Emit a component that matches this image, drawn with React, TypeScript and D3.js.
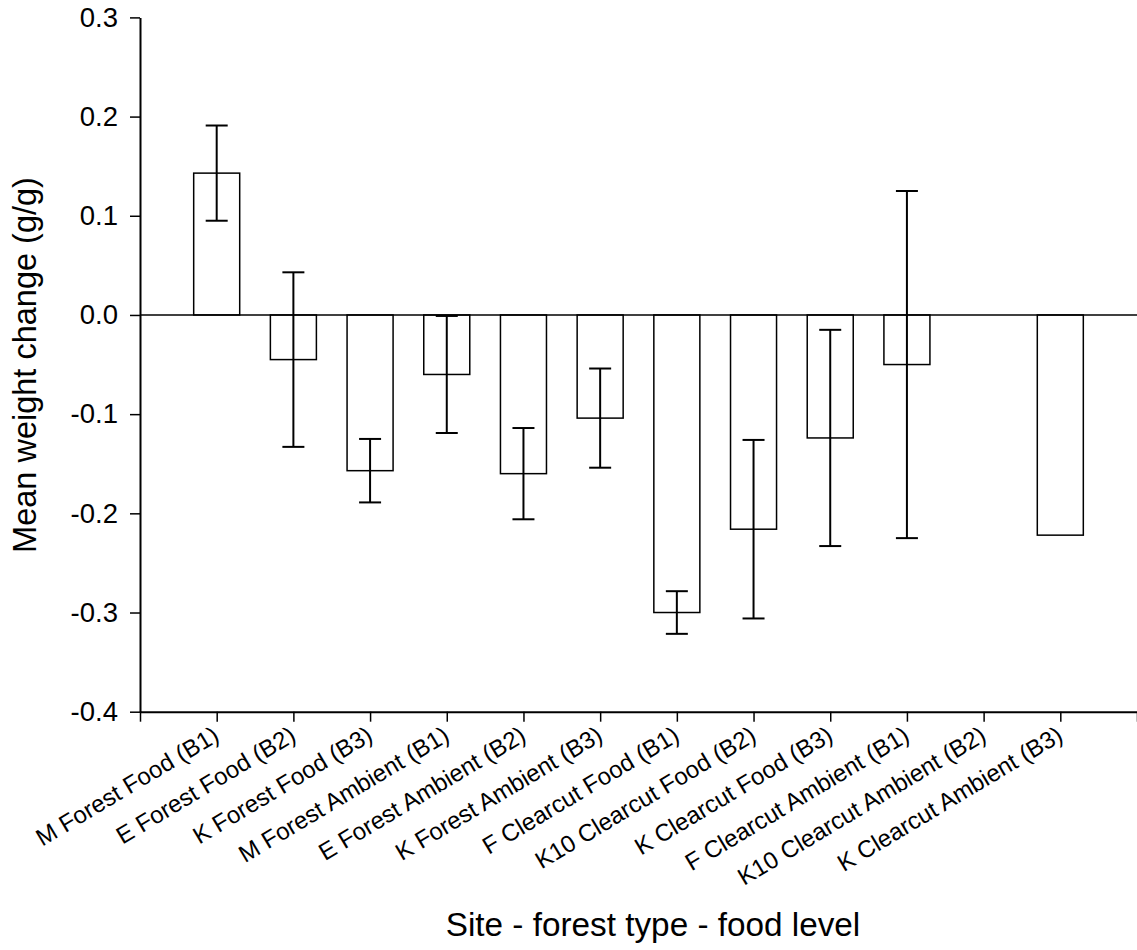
import React, {useEffect, useRef} from 'react'
import * as d3 from 'd3'

const categories = [
  'M Forest Food (B1)',
  'E Forest Food (B2)',
  'K Forest Food (B3)',
  'M Forest Ambient (B1)',
  'E Forest Ambient (B2)',
  'K Forest Ambient (B3)',
  'F Clearcut Food (B1)',
  'K10 Clearcut Food (B2)',
  'K Clearcut Food (B3)',
  'F Clearcut Ambient (B1)',
  'K10 Clearcut Ambient (B2)',
  'K Clearcut Ambient (B3)',
]
const means: (number | null)[] = [0.143, -0.045, -0.157, -0.060, -0.160, -0.104, -0.300, -0.216, -0.124, -0.050, null, -0.222]
const errors: (number | null)[] = [0.048, 0.088, 0.032, 0.059, 0.046, 0.050, 0.0215, 0.090, 0.109, 0.175, null, null]
const yTicks = [-0.4, -0.3, -0.2, -0.1, 0.0, 0.1, 0.2, 0.3]

const W = 1137
const H = 950
const font = '"Liberation Sans", Arial, Helvetica, sans-serif'

const App = () => {
  const ref = useRef<SVGSVGElement>(null)

  useEffect(() => {
    const svg = d3.select(ref.current)
    svg.selectAll('*').remove()
    svg.attr('viewBox', [0, 0, W, H]).attr('font-family', font)

    const margin = {top: 17.4, right: 0, bottom: H - 711.7, left: 140}

    // x is linear: one empty slot at each end, bars sit on 1..12
    const x = d3.scaleLinear()
      .domain([0, categories.length + 1])
      .range([margin.left, W - margin.right])
    const step = x(1) - x(0)
    const barW = step * 0.6

    const y = d3.scaleLinear()
      .domain([-0.4, 0.3])
      .range([H - margin.bottom, margin.top])

    const data = categories.map((name, i) => ({name, i: i + 1, value: means[i], err: errors[i]}))

    // bars
    svg.append('g')
      .selectAll('rect')
      .data(data.filter(d => d.value !== null))
      .join('rect')
      .attr('x', d => x(d.i) - barW / 2)
      .attr('y', d => y(Math.max(0, d.value as number)))
      .attr('width', barW)
      .attr('height', d => Math.abs(y(d.value as number) - y(0)))
      .attr('fill', 'white')
      .attr('stroke', 'black')
      .attr('stroke-width', 1.5)

    // zero line
    svg.append('line')
      .attr('x1', x(0)).attr('x2', x(categories.length + 1))
      .attr('y1', y(0)).attr('y2', y(0))
      .attr('stroke', 'black')
      .attr('stroke-width', 1.5)

    // error bars
    const eb = svg.append('g')
      .attr('stroke', 'black')
      .attr('stroke-width', 2)
      .selectAll('g')
      .data(data.filter(d => d.value !== null && d.err !== null))
      .join('g')
    const cap = 11
    eb.append('line')
      .attr('x1', d => x(d.i)).attr('x2', d => x(d.i))
      .attr('y1', d => y((d.value as number) + (d.err as number)))
      .attr('y2', d => y((d.value as number) - (d.err as number)))
    eb.append('line')
      .attr('x1', d => x(d.i) - cap).attr('x2', d => x(d.i) + cap)
      .attr('y1', d => y((d.value as number) + (d.err as number)))
      .attr('y2', d => y((d.value as number) + (d.err as number)))
    eb.append('line')
      .attr('x1', d => x(d.i) - cap).attr('x2', d => x(d.i) + cap)
      .attr('y1', d => y((d.value as number) - (d.err as number)))
      .attr('y2', d => y((d.value as number) - (d.err as number)))

    // y axis
    const yAxis = svg.append('g')
      .attr('transform', `translate(${margin.left},0)`)
      .call(d3.axisLeft(y).tickValues(yTicks).tickSize(10).tickSizeOuter(0).tickPadding(12)
        .tickFormat(d => (+d).toFixed(1)))
    yAxis.select('.domain').attr('stroke-width', 2)
    yAxis.selectAll('.tick line').attr('stroke-width', 1.5)
    yAxis.selectAll('.tick text')
      .attr('font-size', 27.5)
      .attr('font-family', font)
      .attr('fill', 'black')

    // x axis
    const xAxis = svg.append('g')
      .attr('transform', `translate(0,${y(-0.4)})`)
      .call(d3.axisBottom(x).tickValues(d3.range(0, categories.length + 2)).tickSize(10).tickSizeOuter(0)
        .tickFormat(() => ''))
    xAxis.select('.domain').attr('stroke-width', 2)
    xAxis.selectAll('.tick line').attr('stroke-width', 1.5)

    // rotated category labels, top-right corner just under each tick
    svg.append('g')
      .selectAll('text')
      .data(data)
      .join('text')
      .attr('transform', d => `translate(${x(d.i) + 4},${y(-0.4) + 28}) rotate(-31)`)
      .attr('text-anchor', 'end')
      .attr('font-size', 24)
      .text(d => d.name)

    // axis titles
    svg.append('text')
      .attr('transform', `translate(36,${365}) rotate(-90)`)
      .attr('text-anchor', 'middle')
      .attr('font-size', 32.5)
      .text('Mean weight change (g/g)')

    svg.append('text')
      .attr('x', 653)
      .attr('y', 936)
      .attr('text-anchor', 'middle')
      .attr('font-size', 33.3)
      .text('Site - forest type - food level')
  }, [])

  return <svg ref={ref} width={W} height={H}
    style={{position: 'absolute', left: 0, top: 0, display: 'block', background: 'white'}} />
}

export default App
